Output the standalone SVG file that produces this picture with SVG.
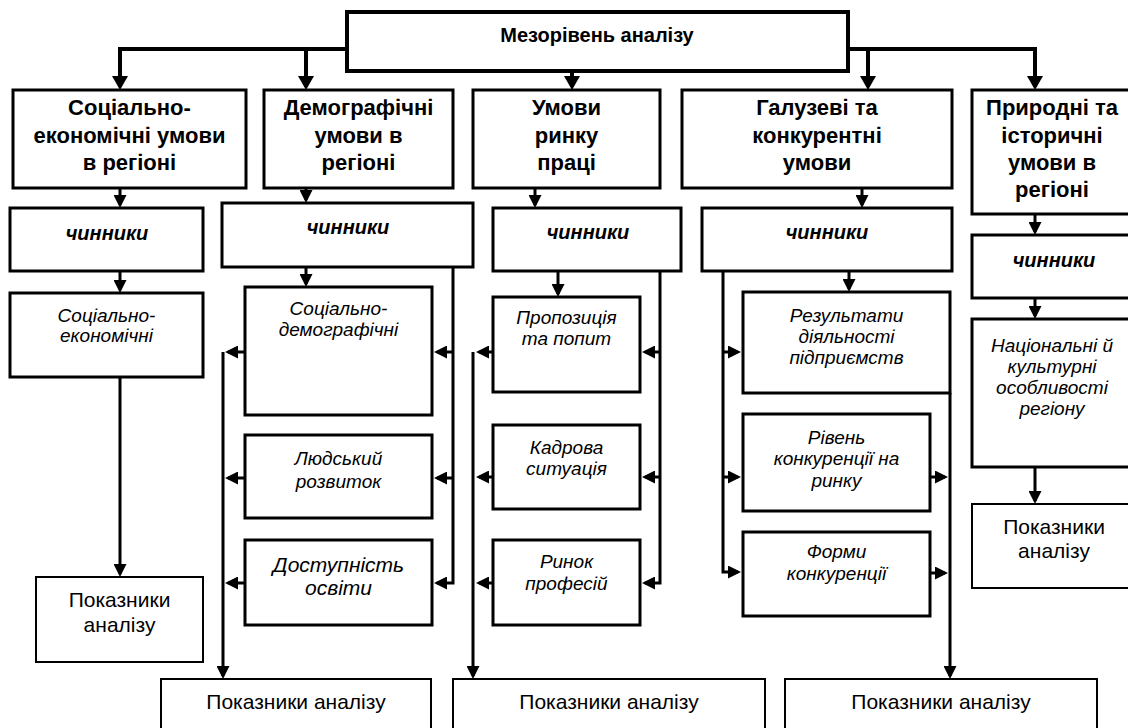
<svg xmlns="http://www.w3.org/2000/svg" width="1128" height="728" viewBox="0 0 1128 728">
<style>
text{font-family:"Liberation Sans",Arial,sans-serif;text-anchor:middle;fill:#000}
.t{font-weight:bold;font-size:20px}
.h{font-weight:bold;font-size:22px}
.c{font-weight:bold;font-style:italic;font-size:20px}
.i{font-style:italic;font-size:19px}
.d{font-style:italic;font-size:21px}
.p{font-size:21px}
.bx{fill:#fff;stroke:#000;stroke-width:3}
.bt{fill:#fff;stroke:#000;stroke-width:4}
.bp{fill:#fff;stroke:#000;stroke-width:2}
.ln{fill:none;stroke:#000;stroke-width:3;marker-end:url(#ah)}
.lt{fill:none;stroke:#000;stroke-width:4;marker-end:url(#ahb)}
</style>
<defs>
<marker id="ah" markerUnits="userSpaceOnUse" markerWidth="13" markerHeight="13" refX="10" refY="6.5" orient="auto"><path d="M0,0 L13,6.5 L0,13 z" fill="#000"/></marker>
<marker id="ahb" markerUnits="userSpaceOnUse" markerWidth="16" markerHeight="16" refX="11" refY="8" orient="auto"><path d="M0,0 L14,8 L0,16 z" fill="#000"/></marker>
</defs>
<rect width="1128" height="728" fill="#fff"/>
<g id="connectors">
<path class="lt" d="M347,49 H120 V87"/>
<path class="lt" d="M306,49 V87"/>
<path class="lt" d="M572,71 V87"/>
<path class="lt" d="M848,49 H1035 V87"/>
<path class="lt" d="M868,49 V87"/>
<path class="ln" d="M120,188 V205"/>
<path class="ln" d="M306,188 V200"/>
<path class="ln" d="M535,188 V205"/>
<path class="ln" d="M862,188 V205"/>
<path class="ln" d="M1035,214 V232"/>
<path class="ln" d="M120,271 V290"/>
<path class="ln" d="M306,267 V284"/>
<path class="ln" d="M558,271 V294"/>
<path class="ln" d="M849,271 V289"/>
<path class="ln" d="M1035,298 V316"/>
<path class="ln" d="M120,377 V574"/>
<path class="ln" d="M453,267 V583 H437"/>
<path class="ln" d="M453,352 H437"/>
<path class="ln" d="M453,478 H437"/>
<path class="ln" d="M245,352 H228"/>
<path class="ln" d="M245,478 H228"/>
<path class="ln" d="M245,583 H228"/>
<path class="ln" d="M223,352 V676"/>
<path class="ln" d="M660,268 V583 H645"/>
<path class="ln" d="M660,352 H645"/>
<path class="ln" d="M660,477 H645"/>
<path class="ln" d="M493,352 H479"/>
<path class="ln" d="M493,477 H479"/>
<path class="ln" d="M493,583 H479"/>
<path class="ln" d="M473,352 V676"/>
<path class="ln" d="M723,271 V572 H738"/>
<path class="ln" d="M723,352 H738"/>
<path class="ln" d="M723,477 H738"/>
<path class="ln" d="M950,393 V676"/>
<path class="ln" d="M930,477 H945"/>
<path class="ln" d="M930,573 H945"/>
<path class="ln" d="M1035,467 V501"/>
</g>
<g id="top"><rect class="bt" x="347" y="12" width="501" height="59"/><text class="t" x="597" y="42">Мезорівень аналізу</text></g>
<g id="socec"><rect class="bx" x="13" y="90" width="233" height="98"/><text class="h" x="129.5" y="115">Соціально-</text><text class="h" x="129.5" y="143">економічні умови</text><text class="h" x="129.5" y="170">в регіоні</text></g>
<g id="demo"><rect class="bx" x="264" y="90" width="189" height="98"/><text class="h" x="358.5" y="115">Демографічні</text><text class="h" x="358.5" y="143">умови в</text><text class="h" x="358.5" y="170">регіоні</text></g>
<g id="labour"><rect class="bx" x="473" y="90" width="187" height="98"/><text class="h" x="566.5" y="115">Умови</text><text class="h" x="566.5" y="143">ринку</text><text class="h" x="566.5" y="170">праці</text></g>
<g id="industry"><rect class="bx" x="682" y="90" width="270" height="98"/><text class="h" x="817" y="115">Галузеві та</text><text class="h" x="817" y="143">конкурентні</text><text class="h" x="817" y="170">умови</text></g>
<g id="nature"><rect class="bx" x="972" y="90" width="164" height="124"/><text class="h" x="1052" y="115">Природні та</text><text class="h" x="1052" y="143">історичні</text><text class="h" x="1052" y="170">умови в</text><text class="h" x="1052" y="197">регіоні</text></g>
<g id="ch1"><rect class="bx" x="10" y="208" width="193" height="63"/><text class="c" x="107" y="240">чинники</text></g>
<g id="ch2"><rect class="bx" x="222" y="203" width="251" height="64"/><text class="c" x="348" y="234">чинники</text></g>
<g id="ch3"><rect class="bx" x="493" y="208" width="188" height="63"/><text class="c" x="588" y="239">чинники</text></g>
<g id="ch4"><rect class="bx" x="702" y="208" width="250" height="63"/><text class="c" x="827" y="239">чинники</text></g>
<g id="ch5"><rect class="bx" x="972" y="235" width="164" height="63"/><text class="c" x="1054" y="267">чинники</text></g>
<g id="f-socec"><rect class="bx" x="10" y="293" width="193" height="84"/><text class="i" x="106.5" y="322">Соціально-</text><text class="i" x="106.5" y="342">економічні</text></g>
<g id="f-socdem"><rect class="bx" x="245" y="287" width="187" height="128"/><text class="i" x="338.5" y="315">Соціально-</text><text class="i" x="338.5" y="336">демографічні</text></g>
<g id="f-human"><rect class="bx" x="245" y="435" width="187" height="83"/><text class="i" x="338.5" y="465">Людський</text><text class="i" x="338.5" y="488">розвиток</text></g>
<g id="f-edu"><rect class="bx" x="245" y="540" width="187" height="85"/><text class="d" x="338.5" y="572">Доступність</text><text class="d" x="338.5" y="595">освіти</text></g>
<g id="f-supply"><rect class="bx" x="493" y="297" width="147" height="95"/><text class="i" x="566.5" y="324">Пропозиція</text><text class="i" x="566.5" y="345">та попит</text></g>
<g id="f-staff"><rect class="bx" x="493" y="425" width="147" height="84"/><text class="i" x="566.5" y="454">Кадрова</text><text class="i" x="566.5" y="475">ситуація</text></g>
<g id="f-prof"><rect class="bx" x="493" y="540" width="147" height="85"/><text class="i" x="566.5" y="568">Ринок</text><text class="i" x="566.5" y="590">професій</text></g>
<g id="f-results"><rect class="bx" x="743" y="292" width="207" height="101"/><text class="i" x="846.5" y="322">Результати</text><text class="i" x="846.5" y="343">діяльності</text><text class="i" x="846.5" y="364">підприємств</text></g>
<g id="f-level"><rect class="bx" x="743" y="414" width="187" height="97"/><text class="i" x="836.5" y="444">Рівень</text><text class="i" x="836.5" y="465">конкуренції на</text><text class="i" x="836.5" y="487">ринку</text></g>
<g id="f-forms"><rect class="bx" x="743" y="532" width="187" height="84"/><text class="i" x="836.5" y="558">Форми</text><text class="i" x="836.5" y="580">конкуренції</text></g>
<g id="f-national"><rect class="bx" x="972" y="319" width="164" height="148"/><text class="i" x="1052" y="352">Національні й</text><text class="i" x="1052" y="373">культурні</text><text class="i" x="1052" y="394">особливості</text><text class="i" x="1052" y="415">регіону</text></g>
<g id="p-socec"><rect class="bp" x="36" y="577" width="167" height="85"/><text class="p" x="119.5" y="607">Показники</text><text class="p" x="119.5" y="632">аналізу</text></g>
<g id="p-nature"><rect class="bp" x="972" y="504" width="164" height="84"/><text class="p" x="1054" y="534">Показники</text><text class="p" x="1054" y="558">аналізу</text></g>
<g id="p-demo"><rect class="bp" x="161" y="679" width="270" height="60"/><text class="p" x="296" y="709">Показники аналізу</text></g>
<g id="p-labour"><rect class="bp" x="453" y="679" width="312" height="60"/><text class="p" x="609" y="709">Показники аналізу</text></g>
<g id="p-industry"><rect class="bp" x="785" y="679" width="312" height="60"/><text class="p" x="941" y="709">Показники аналізу</text></g>
</svg>
